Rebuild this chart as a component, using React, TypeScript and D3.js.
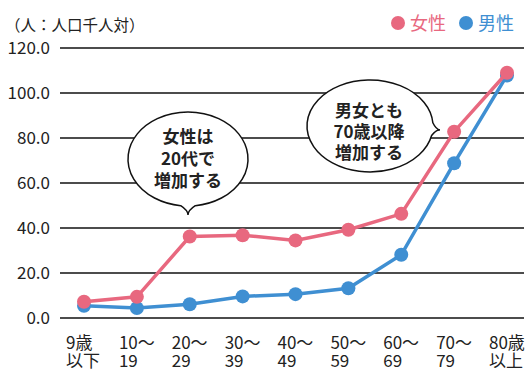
import React from "react";
import * as d3 from "d3";

const categories = ["9歳以下", "10〜19", "20〜29", "30〜39", "40〜49", "50〜59", "60〜69", "70〜79", "80歳以上"];
const labelLine1 = ["9歳", "10〜", "20〜", "30〜", "40〜", "50〜", "60〜", "70〜", "80歳"];
const labelLine2 = ["以下", "19", "29", "39", "49", "59", "69", "79", "以上"];
const female = [7.2, 9.4, 36.2, 36.8, 34.5, 39.2, 46.3, 82.8, 109.0];
const male = [5.4, 4.4, 6.1, 9.6, 10.6, 13.2, 28.1, 68.8, 107.8];
const yTicks = [0, 20, 40, 60, 80, 100, 120];
const bubble1Lines = ["女性は", "20代で", "増加する"];
const bubble2Lines = ["男女とも", "70歳以降", "増加する"];

const PINK = "#e8687f";
const BLUE = "#3f8fd2";
const FONT = "'Noto Sans CJK JP', 'Noto Sans', sans-serif";

function bubblePath(cx: number, cy: number, rx: number, ry: number, baseAngle: number, spread: number, tip: [number, number]) {
  const a1 = ((baseAngle - spread) * Math.PI) / 180;
  const a2 = ((baseAngle + spread) * Math.PI) / 180;
  const p1: [number, number] = [cx + rx * Math.cos(a1), cy + ry * Math.sin(a1)];
  const p2: [number, number] = [cx + rx * Math.cos(a2), cy + ry * Math.sin(a2)];
  const ctrl1: [number, number] = [(p1[0] + tip[0]) / 2 + (p2[0] - p1[0]) * 0.25, (p1[1] + tip[1]) / 2 + (p2[1] - p1[1]) * 0.25];
  const ctrl2: [number, number] = [(p2[0] + tip[0]) / 2 + (p1[0] - p2[0]) * 0.25, (p2[1] + tip[1]) / 2 + (p1[1] - p2[1]) * 0.25];
  return `M${p2[0]},${p2[1]} A${rx},${ry} 0 1 1 ${p1[0]},${p1[1]} Q${ctrl1[0]},${ctrl1[1]} ${tip[0]},${tip[1]} Q${ctrl2[0]},${ctrl2[1]} ${p2[0]},${p2[1]} Z`;
}

export default function App() {
  const width = 530;
  const height = 381;
  const x = d3.scalePoint<string>().domain(categories).range([84, 507]);
  const y = d3.scaleLinear().domain([0, 120]).range([318, 48]);
  const line = d3
    .line<number>()
    .x((_, i) => x(categories[i]) as number)
    .y((d) => y(d));

  const series = [
    { name: "男性", values: male, color: BLUE },
    { name: "女性", values: female, color: PINK },
  ];

  return (
    <svg width={width} height={height} style={{ position: "absolute", left: 0, top: 0, fontFamily: FONT }}>
      <rect width={width} height={height} fill="#fff" />
      <text x={5} y={31} fontSize={15.5} fill="#222">（人：人口千人対）</text>
      {/* legend */}
      <circle cx={398} cy={23} r={7} fill={PINK} />
      <text x={410} y={30} fontSize={18} fill={PINK}>女性</text>
      <circle cx={466} cy={23} r={7} fill={BLUE} />
      <text x={478} y={30} fontSize={18} fill={BLUE}>男性</text>

      {yTicks.map((t) => (
        <g key={t}>
          <line x1={60} x2={524} y1={y(t)} y2={y(t)} stroke="#111" strokeWidth={1.3} />
          <text x={50} y={y(t)} dy="0.36em" textAnchor="end" fontSize={17} fill="#222">
            {t.toFixed(1)}
          </text>
        </g>
      ))}

      {categories.map((c, i) => (
        <g key={c}>
          <text x={(x(c) as number) - 18} y={349} fontSize={17} fill="#222">{labelLine1[i]}</text>
          <text x={(x(c) as number) - 18} y={367} fontSize={17} fill="#222">{labelLine2[i]}</text>
        </g>
      ))}

      {/* bubbles */}
      <path d={bubblePath(188, 159, 60, 47, 90, 7, [188, 215])} fill="#fff" stroke="#111" strokeWidth={1.5} />
      {bubble1Lines.map((s, i) => (
        <text key={s} x={188} y={143 + i * 22} textAnchor="middle" fontSize={17} fontWeight="bold" fill="#222">{s}</text>
      ))}
      <path d={bubblePath(370, 126, 63, 46, 4, 8, [440, 130])} fill="#fff" stroke="#111" strokeWidth={1.5} />
      {bubble2Lines.map((s, i) => (
        <text key={s + i} x={369} y={117 + i * 21} textAnchor="middle" fontSize={17} fontWeight="bold" fill="#222">{s}</text>
      ))}

      {series.map((s) => (
        <g key={s.name}>
          <path d={line(s.values) || ""} fill="none" stroke={s.color} strokeWidth={3.5} />
          {s.values.map((v, i) => (
            <circle key={i} cx={x(categories[i]) as number} cy={y(v)} r={7} fill={s.color} />
          ))}
        </g>
      ))}
    </svg>
  );
}
